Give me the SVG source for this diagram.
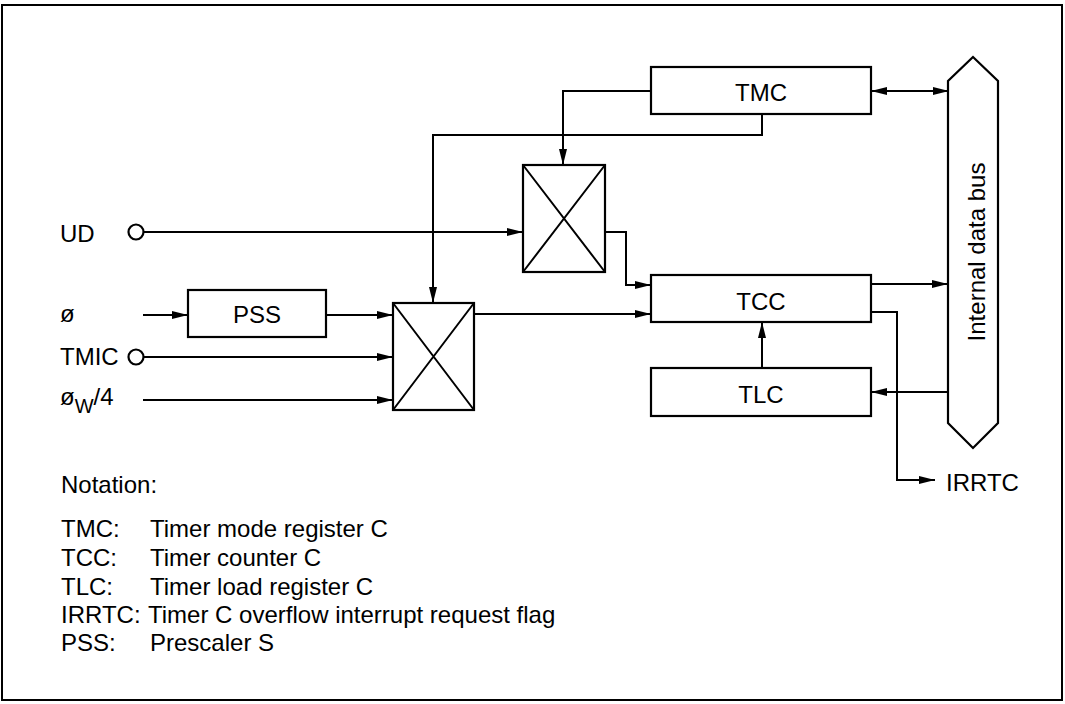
<svg xmlns="http://www.w3.org/2000/svg" width="1065" height="704" viewBox="0 0 1065 704">
<defs>
<marker id="ah" viewBox="0 0 16 8" refX="16" refY="4" markerWidth="16" markerHeight="8" markerUnits="userSpaceOnUse" orient="auto-start-reverse">
<path d="M0,0 L16,4 L0,8 z" fill="#000"/>
</marker>
<style>
.box{fill:#fff;stroke:#000;stroke-width:2.2}
.ln{fill:none;stroke:#000;stroke-width:2}
.arr{fill:none;stroke:#000;stroke-width:2;marker-end:url(#ah)}
.t{font-family:"Liberation Sans",Arial,sans-serif;font-size:24px;fill:#000}
.c{text-anchor:middle}
.n{font-family:"Liberation Sans",Arial,sans-serif;font-size:24px;fill:#000}
</style>
</defs>
<rect x="2" y="5" width="1060" height="695" fill="#fff" stroke="#000" stroke-width="2"/>

<g id="connectors">
<line class="ln" x1="871" y1="91" x2="949" y2="91" marker-start="url(#ah)" marker-end="url(#ah)"/>
<polyline class="arr" points="651,91 563,91 563,165"/>
<polyline class="arr" points="762,114 762,135 433,135 433,303"/>
<line class="arr" x1="144" y1="232" x2="523" y2="232"/>
<polyline class="arr" points="605,232 626,232 626,285 651,285"/>
<line class="arr" x1="143" y1="315" x2="188" y2="315"/>
<line class="arr" x1="326" y1="315" x2="393" y2="315"/>
<line class="arr" x1="144" y1="357" x2="393" y2="357"/>
<line class="arr" x1="143" y1="400" x2="393" y2="400"/>
<line class="arr" x1="474" y1="314" x2="651" y2="314"/>
<line class="arr" x1="871" y1="284" x2="948" y2="284"/>
<line class="arr" x1="762" y1="368" x2="762" y2="322"/>
<line class="arr" x1="948" y1="392" x2="871" y2="392"/>
<polyline class="arr" points="871,312 897,312 897,480 935,480"/>
</g>

<g id="bus">
<polygon class="box" points="973,57 998,81 998,423 973,448 948,423 948,81"/>
<text class="t c" transform="translate(985,252) rotate(-90)">Internal data bus</text>
</g>
<g id="TMC">
<rect class="box" x="651" y="67" width="220" height="47"/>
<text class="t c" x="761" y="101">TMC</text>
</g>
<g id="TCC">
<rect class="box" x="651" y="275" width="220" height="47"/>
<text class="t c" x="761" y="310">TCC</text>
</g>
<g id="TLC">
<rect class="box" x="651" y="368" width="220" height="48"/>
<text class="t c" x="761" y="403">TLC</text>
</g>
<g id="PSS">
<rect class="box" x="188" y="290" width="138" height="47"/>
<text class="t c" x="257" y="323">PSS</text>
</g>
<g id="mux1">
<rect class="box" x="523" y="165" width="82" height="107"/>
<path class="ln" d="M523,165 L605,272 M605,165 L523,272"/>
</g>
<g id="mux2">
<rect class="box" x="393" y="303" width="81" height="107"/>
<path class="ln" d="M393,303 L474,410 M474,303 L393,410"/>
</g>
<g id="UD">
<text class="t" x="60" y="242">UD</text>
<circle cx="136" cy="232" r="7.5" fill="#fff" stroke="#000" stroke-width="2.2"/>
</g>
<g id="phi">
<text class="t" x="60" y="322">ø</text>
</g>
<g id="TMIC">
<text class="t" x="60" y="365">TMIC</text>
<circle cx="136" cy="357" r="7.5" fill="#fff" stroke="#000" stroke-width="2.2"/>
</g>
<g id="phiW4">
<text class="t" x="60" y="405">ø<tspan font-size="20" dy="8">W</tspan><tspan dy="-8">/4</tspan></text>
</g>
<g id="IRRTC">
<text class="t" x="946" y="491">IRRTC</text>
</g>
<g id="notation">
<text class="n" x="61" y="493">Notation:</text>
<text class="n" x="61" y="537">TMC:</text><text class="n" x="150" y="537">Timer mode register C</text>
<text class="n" x="61" y="566">TCC:</text><text class="n" x="150" y="566">Timer counter C</text>
<text class="n" x="61" y="595">TLC:</text><text class="n" x="150" y="595">Timer load register C</text>
<text class="n" x="61" y="623">IRRTC:</text><text class="n" x="148" y="623">Timer C overflow interrupt request flag</text>
<text class="n" x="61" y="651">PSS:</text><text class="n" x="150" y="651">Prescaler S</text>
</g>
</svg>
